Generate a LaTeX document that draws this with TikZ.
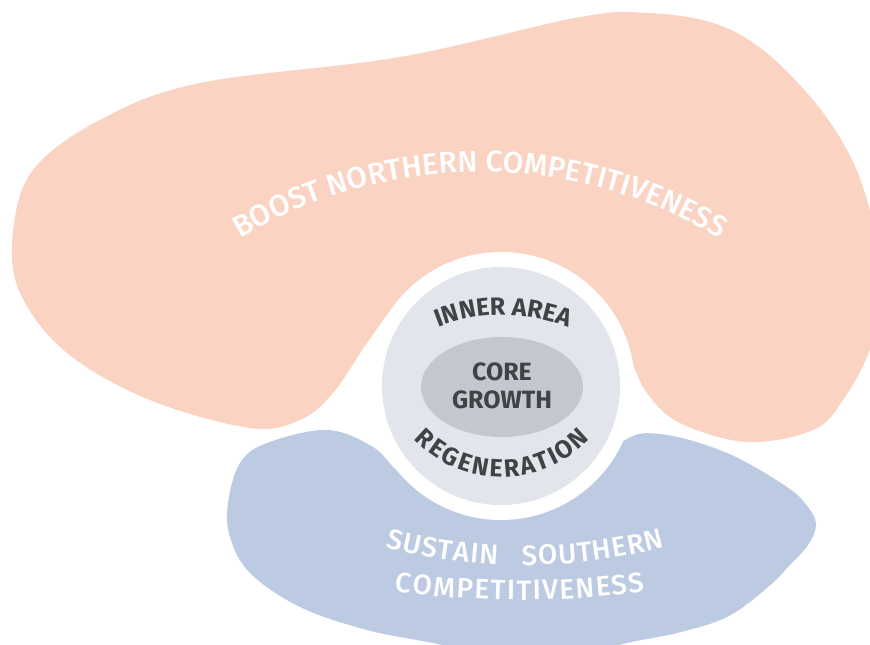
\documentclass[tikz,border=0pt]{standalone}
\usepackage{fontspec}
\setmainfont{Fira Sans}
\newfontfamily\medfont{Fira Sans Medium}
\usetikzlibrary{decorations.text}
\definecolor{peach}{HTML}{FAD3C2}
\definecolor{bluebg}{HTML}{BCCBE2}
\definecolor{ringgray}{HTML}{E2E6EC}
\definecolor{coregray}{HTML}{C3C8D0}
\definecolor{darktext}{HTML}{404346}
\tikzset{
  whitearc/.style={decorate, decoration={text along path, text align=center, text color=white}},
  darkarc/.style={decorate, decoration={text along path, text align=center, text color=darktext}}
}
\begin{document}
\begin{tikzpicture}[x=1pt,y=1pt]
\useasboundingbox (0,0) rectangle (870,645);
\clip (0,0) rectangle (870,645);
% north blob
\fill[peach] plot[smooth cycle, tension=0.6] coordinates {
 (100,525) (200,562) (400,588) (580,628) (647,632) (713,622) (763,595) (813,545)
 (847,495) (867,445) (882,375) (872,302) (843,245) (813,215) (747,203) (680,222)
 (647,252) (630,288) (613,328) (560,372) (501,382) (440,372) (400,345) (367,302)
 (333,252) (300,225) (250,217) (150,245) (67,292) (20,352) (13,412) (33,475)};
% south blob
\fill[bluebg] plot[smooth cycle, tension=0.6] coordinates {
 (240,182) (267,202) (327,215) (373,198) (400,172) (450,140) (501,132) (555,145)
 (620,202) (660,211) (727,192) (787,158) (808,138) (816,120) (808,100) (790,80)
 (767,57) (727,28) (677,12) (627,2) (560,-15) (480,-8) (433,2) (367,15) (300,38)
 (250,72) (230,108) (228,142)};
% centre
\fill[white] (501,259) circle[radius=134pt];
\fill[ringgray] (501,259) circle[radius=119pt];
\fill[coregray] (502,258) ellipse[x radius=81pt, y radius=50pt];
\node[text=darktext, font=\bfseries\fontsize{25}{28}\selectfont, align=center] (core) at (502,259) {CORE\\GROWTH};
% curved labels
\path[darkarc, decoration={text={|\bfseries\fontsize{25}{25}\selectfont|INNER AREA}}]
  (415,306.4) arc[start angle=120, end angle=60, radius=176pt];
\path[darkarc, decoration={text={|\bfseries\fontsize{25}{25}\selectfont|R{\kern2.2pt}E{\kern2.2pt}G{\kern2.2pt}E{\kern2.2pt}N{\kern2.2pt}E{\kern2.2pt}R{\kern2.2pt}A{\kern2.2pt}T{\kern2.2pt}I{\kern2.2pt}O{\kern2.2pt}N}}]
  (402.1,220) arc[start angle=215, end angle=325, radius=122pt];
\path[whitearc, decoration={text={|\medfont\fontsize{30}{30}\selectfont|BOOST NORTHERN COMPETITIVENESS}}]
  (150.5,336.5) arc[start angle=135, end angle=45, radius=466pt];
\path[whitearc, decoration={text={|\medfont\fontsize{28}{28}\selectfont|S{\kern1pt}U{\kern1pt}S{\kern1pt}T{\kern1pt}A{\kern1pt}I{\kern1pt}N {\kern10pt} S{\kern1pt}O{\kern1pt}U{\kern1pt}T{\kern1pt}H{\kern1pt}E{\kern1pt}R{\kern1pt}N}}]
  (335.9,113.3) arc[start angle=250, end angle=290, radius=553pt];
\path[whitearc, decoration={text={|\medfont\fontsize{28}{28}\selectfont|C{\kern1.5pt}O{\kern1.5pt}M{\kern1.5pt}P{\kern1.5pt}E{\kern1.5pt}T{\kern1.5pt}I{\kern1.5pt}T{\kern1.5pt}I{\kern1.5pt}V{\kern1.5pt}E{\kern1.5pt}N{\kern1.5pt}E{\kern1.5pt}S{\kern1.5pt}S}}]
  (355,59.4) arc[start angle=260, end angle=280, radius=950pt];
\end{tikzpicture}
\end{document}
